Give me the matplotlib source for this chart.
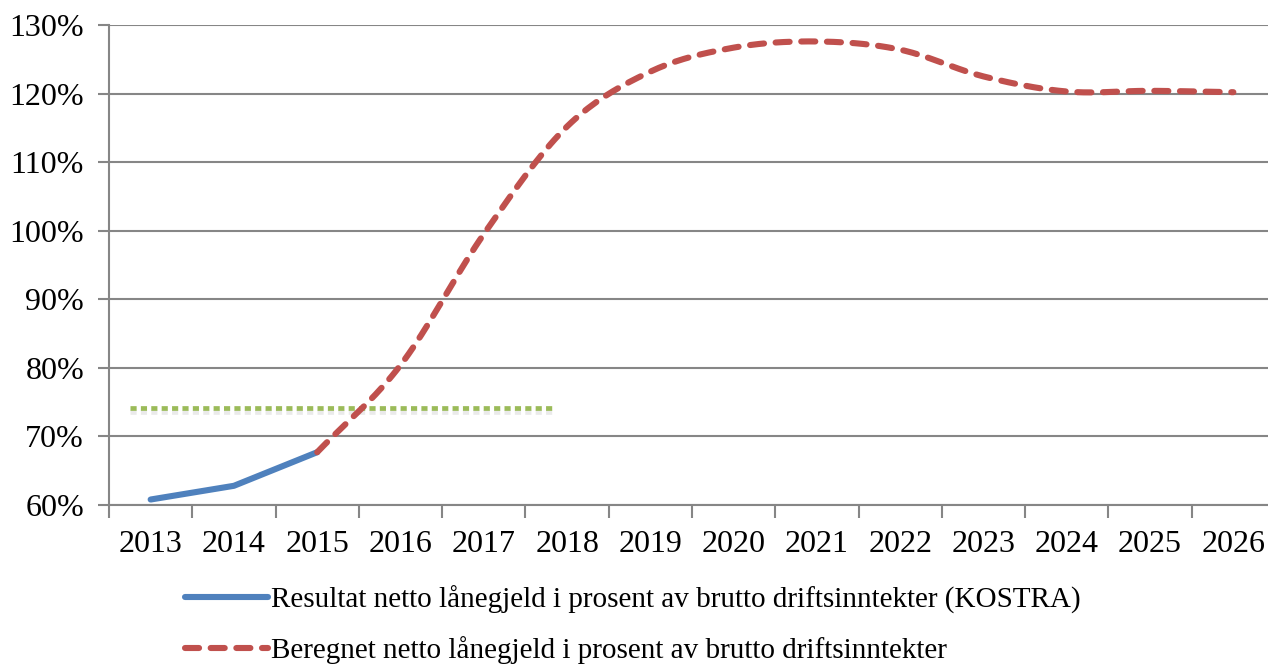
import numpy as np
import matplotlib.pyplot as plt
import matplotlib.patheffects as pe

# Years and read-off values (percent)
years = [str(y) for y in range(2013, 2027)]
resultat = [60.8, 62.8, 67.7]                      # 2013-2015 (KOSTRA)
beregnet = [67.7, 80.4, 99.5, 115.2, 123.2, 126.7, 127.6,
            126.4, 122.5, 120.3, 120.4, 120.2]      # 2015-2026
mal_niva = 74.2                                     # green dotted reference
mal_fra, mal_til = -0.25, 4.85                      # category span of the green line

lbl_res = 'Resultat netto lånegjeld i prosent av brutto driftsinntekter (KOSTRA)'
lbl_ber = 'Beregnet netto lånegjeld i prosent av brutto driftsinntekter'


def smooth(x, y, n=20):
    # Catmull-Rom curve through the points, like Excel's smoothed line
    x = np.asarray(x, float)
    y = np.asarray(y, float)
    px = np.concatenate([[2 * x[0] - x[1]], x, [2 * x[-1] - x[-2]]])
    py = np.concatenate([[2 * y[0] - y[1]], y, [2 * y[-1] - y[-2]]])
    xs, ys = [], []
    t = np.linspace(0, 1, n, endpoint=False)
    for i in range(1, len(px) - 2):
        for p, out in ((px, xs), (py, ys)):
            p0, p1, p2, p3 = p[i - 1], p[i], p[i + 1], p[i + 2]
            out.extend(0.5 * ((2 * p1) + (-p0 + p2) * t
                              + (2 * p0 - 5 * p1 + 4 * p2 - p3) * t ** 2
                              + (-p0 + 3 * p1 - 3 * p2 + p3) * t ** 3))
    xs.append(x[-1])
    ys.append(y[-1])
    return np.array(xs), np.array(ys)


plt.rcParams['font.family'] = ['Liberation Serif', 'DejaVu Serif']

fig = plt.figure(figsize=(12.68, 6.68), dpi=100)
ax = fig.add_axes([109 / 1268, 1 - 505 / 668, 1166 / 1268, 480 / 668])

grid_c = '#868686'

# green dotted level with a soft shadow
ax.plot([mal_fra, mal_til], [mal_niva, mal_niva], color='#9BBB59', lw=3.4,
        ls=(0, (1.3, 0.9)), solid_capstyle='butt', zorder=3,
        path_effects=[pe.SimpleLineShadow(offset=(0, -3), shadow_color='#bbbbbb', alpha=0.3),
                      pe.Normal()])

xb = np.arange(len(resultat))
ax.plot(xb, resultat, color='#4F81BD', lw=4.4, solid_capstyle='round',
        solid_joinstyle='round', zorder=4, label=lbl_res)

xr = np.arange(2, 2 + len(beregnet))
sx, sy = smooth(xr, beregnet)
ax.plot(sx, sy, color='#C0504D', lw=4.4, ls=(0, (2.3, 1.9)), dash_capstyle='round',
        zorder=4, label=lbl_ber)

ax.set_xlim(-0.5, 13.5)
ax.set_ylim(60, 130)
ax.set_yticks(range(60, 131, 10))
ax.set_yticklabels([f'{v}%' for v in range(60, 131, 10)], fontsize=23)
ax.set_xticks(np.arange(-0.5, 14, 1))
ax.set_xticklabels([])
ax.set_xticks(np.arange(14), minor=True)
ax.set_xticklabels(years, minor=True, fontsize=23)
ax.tick_params(axis='x', which='major', length=9, width=1.5, color=grid_c, direction='out')
ax.tick_params(axis='x', which='minor', length=0, pad=18)
ax.tick_params(axis='y', length=8, width=1.5, color=grid_c, pad=10)
ax.grid(axis='y', color=grid_c, lw=1.5)
ax.set_axisbelow(True)
for s in ['top', 'right']:
    ax.spines[s].set_visible(False)
for s in ['left', 'bottom']:
    ax.spines[s].set_color(grid_c)
    ax.spines[s].set_linewidth(1.5)

fig.legend(loc='upper left', bbox_to_anchor=(173 / 1268, 1 - 574 / 668), frameon=False,
           fontsize=21, handlelength=2.85, handletextpad=0.12, labelspacing=0.75,
           borderaxespad=0)

fig.savefig('out.png', dpi=100)
